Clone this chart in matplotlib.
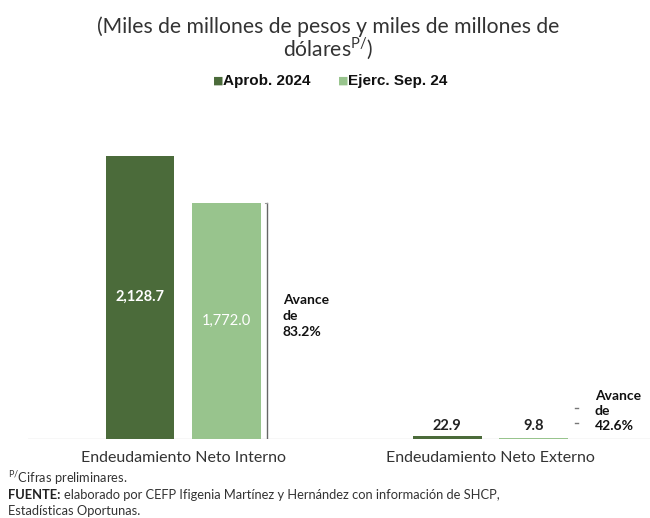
import matplotlib
matplotlib.use("Agg")
import matplotlib.pyplot as plt
import numpy as np

categories = ["Endeudamiento Neto Interno", "Endeudamiento Neto Externo"]
aprob = [2128.7, 22.9]
ejerc = [1772.0, 9.8]
avance = ["83.2%", "42.6%"]
series_names = ["Aprob. 2024", "Ejerc. Sep. 24"]

dark = "#4b6b3a"
light = "#98c48d"
FONT = ["Lato", "DejaVu Sans"]
plt.rcParams["font.family"] = FONT
plt.rcParams["mathtext.fontset"] = "custom"
plt.rcParams["mathtext.rm"] = "Lato"
plt.rcParams["mathtext.bf"] = "Lato:bold"

W, H = 650, 518
fig = plt.figure(figsize=(W / 100, H / 100), dpi=100)

left_px, right_px, base_px, top_px = 28, 650, 439, 100
ax = fig.add_axes([left_px / W, 1 - base_px / H, (right_px - left_px) / W, (base_px - top_px) / H])

x = np.arange(len(categories))
bw = 0.2225
off = 0.1405
ax.bar(x - off, aprob, bw, color=dark, zorder=2)
ax.bar(x + off, ejerc, bw, color=light, zorder=2)

scale = 2128.7 / (base_px - 155.5)  # units per px
ax.set_ylim(0, (base_px - top_px) * scale)
spacing = 490.5 - 183.3
ax.set_xlim(-(183.3 - left_px) / spacing, 1 + (right_px - 490.5) / spacing)
ax.axis("off")
ax.axhline(0, color="#d9d9d9", lw=1.0, zorder=1)

# value labels
ax.text(x[0] - off, aprob[0] / 2, f"{aprob[0]:,.1f}", ha="center", va="center",
        color="white", fontsize=10.5, fontweight="bold")
ax.text(x[0] + off, ejerc[0] / 2, f"{ejerc[0]:,.1f}", ha="center", va="center",
        color="white", fontsize=10.5)
ax.text(x[1] - off, 13 * scale, f"{aprob[1]:,.1f}", ha="center", va="center",
        color="#222222", fontsize=10.5, fontweight="bold")
ax.text(x[1] + off, 13 * scale, f"{ejerc[1]:,.1f}", ha="center", va="center",
        color="#222222", fontsize=10.5, fontweight="bold")

# bracket group 1
bx = x[0] + off + bw / 2 + 6 / spacing
ax.plot([bx, bx], [0, ejerc[0]], color="#666666", lw=1.0)
ax.plot([bx - 1.5 / spacing, bx], [ejerc[0], ejerc[0]], color="#999999", lw=0.8)
ax.text(bx + 16 / spacing, (base_px - 316) * scale, "Avance\nde\n" + avance[0],
        ha="left", va="center", fontsize=10, fontweight="bold", color="#111111",
        linespacing=1.35)
# bracket group 2 (tiny)
bx2 = x[1] + off + bw / 2 + 9 / spacing
for yy in (31, 16):
    ax.plot([bx2 - 1.5 / spacing, bx2 + 1.5 / spacing], [yy * scale, yy * scale],
            color="#777777", lw=1.0)
ax.text(bx2 + 18 / spacing, (base_px - 411) * scale, "Avance\nde\n" + avance[1],
        ha="left", va="center", fontsize=10, fontweight="bold", color="#111111",
        linespacing=1.25)

# category labels
for xi, c in zip(x, categories):
    ax.text(xi, -(458 - base_px) * scale, c, ha="center", va="center",
            fontsize=11.5, color="#333333")

# title
fig.text(328 / W, 1 - 27 / H, "(Miles de millones de pesos y miles de millones de",
         ha="center", va="center", fontsize=15.2, color="#333333")
fig.text(328 / W, 1 - 48 / H, r"dólares$^{\mathregular{P/}}$)",
         ha="center", va="center", fontsize=15.2, color="#333333")

# legend
fig.text(213 / W, 1 - 81 / H, "■", ha="left", va="center", fontsize=8, color=dark,
         family="DejaVu Sans")
fig.text(223 / W, 1 - 81 / H, series_names[0], ha="left", va="center", fontsize=11,
         fontweight="bold", color="#111111", family=["Liberation Sans", "DejaVu Sans"])
fig.text(338 / W, 1 - 81 / H, "■", ha="left", va="center", fontsize=8, color=light,
         family="DejaVu Sans")
fig.text(348 / W, 1 - 81 / H, series_names[1], ha="left", va="center", fontsize=11,
         fontweight="bold", color="#111111", family=["Liberation Sans", "DejaVu Sans"])

# footer
fs = 9.3
fig.text(8 / W, 1 - 478 / H, r"$^{\mathregular{P/}}$Cifras preliminares.", ha="left",
         va="center", fontsize=fs, color="#333333")
t_bold = fig.text(8 / W, 1 - 495 / H, "FUENTE:", ha="left", va="center", fontsize=fs,
                  fontweight="bold", color="#222222")
fig.canvas.draw()
bb = t_bold.get_window_extent(renderer=fig.canvas.get_renderer())
fig.text((bb.x1 + 3) / W, 1 - 495 / H,
         "elaborado por CEFP Ifigenia Martínez y Hernández con información de SHCP,",
         ha="left", va="center", fontsize=fs, color="#333333")
fig.text(8 / W, 1 - 511 / H, "Estadísticas Oportunas.", ha="left", va="center",
         fontsize=fs, color="#333333")

fig.savefig("out.png", dpi=100)
